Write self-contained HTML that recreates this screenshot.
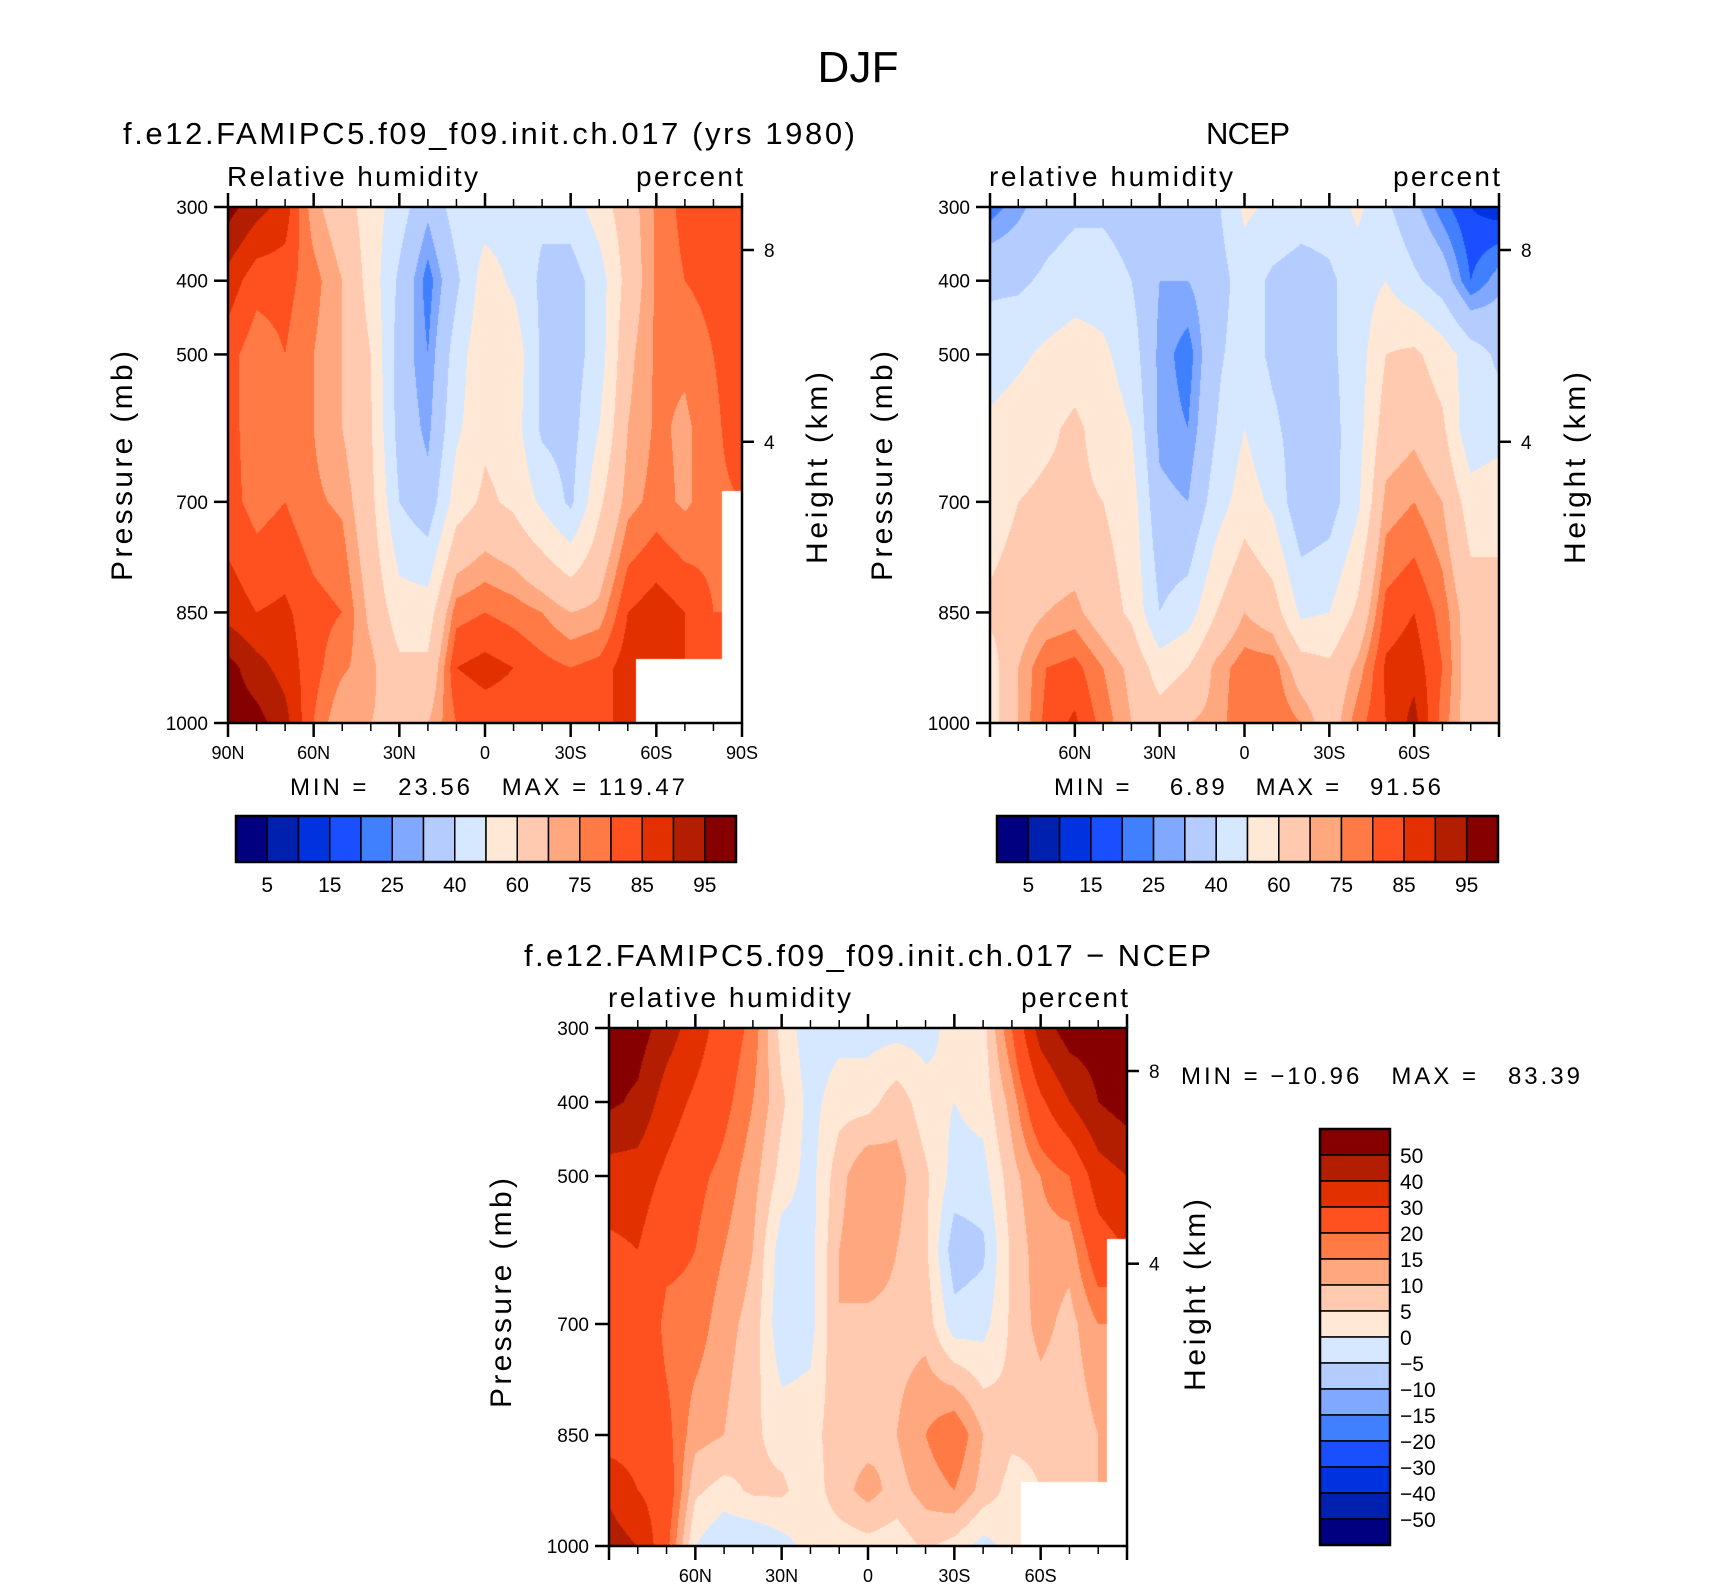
<!DOCTYPE html>
<html><head><meta charset="utf-8">
<style>
body{margin:0;background:#fff;width:1710px;height:1590px;position:relative;overflow:hidden;font-family:"Liberation Sans",sans-serif;color:#000}
canvas{position:absolute}
svg{position:absolute;left:0;top:0}
svg text{white-space:pre}
</style></head><body>
<canvas id="c1" width="514" height="516" style="left:228px;top:207px"></canvas>
<canvas id="c2" width="509" height="516" style="left:990px;top:207px"></canvas>
<canvas id="c3" width="518" height="518" style="left:609px;top:1028px"></canvas>
<svg id="ov" width="1710" height="1590"></svg>
<script>
const lats=[90,80,70,60,50,40,30,20,10,0,-10,-20,-30,-40,-50,-60,-70,-80,-90];
const levels=[300,400,500,600,700,850,925,1000];
const absBounds=[5,10,15,20,25,30,40,50,60,70,75,80,85,90,95];
const diffBounds=[-50,-40,-30,-20,-15,-10,-5,0,5,10,15,20,30,40,50];
const absTickLabels=["5","15","25","40","60","75","85","95"];
const diffTickLabels=["50","40","30","20","15","10","5","0","−5","−10","−15","−20","−30","−40","−50"];
const colors=["#000080","#0020b0","#0033e0","#1a4fff","#4080ff","#80a8ff","#b4ccff","#d6e8ff","#ffe8d6","#ffcab0","#ffa880","#ff7a45","#ff5020","#e33000","#b31e00","#870000"];
const modelRH=[
[97,88,82,82,82,88,97,98],[92,82,77,77,78,85,92,97],[88,82,80,77,80,86,88,92],[72,77,75,75,76,82,82,80],
[65,70,70,70,74,80,76,70],[55,56,60,61,63,68,72,70],[45,38,35,36,40,55,62,68],[32,22,25,28,33,55,62,70],
[45,38,45,48,55,78,85,80],[45,55,58,58,62,80,87,82],[45,48,57,55,58,78,85,82],[42,38,38,38,48,75,82,82],
[45,35,35,36,38,70,80,82],[55,45,45,50,58,72,82,85],[66,64,68,70,73,85,88,85],[76,76,76,76,77,88,null,null],
[82,80,76,74,74,85,null,null],[84,82,80,78,78,80,null,null],[85,85,85,85,null,null,null,null]];
const ncepRH=[
[22,38,45,52,55,62,55,55],[28,38,48,55,60,65,70,70],[35,42,52,58,62,70,80,82],[38,45,55,62,62,72,82,86],
[38,45,52,56,60,65,75,78],[35,40,45,50,55,58,68,70],[35,30,28,28,32,40,55,65],[35,30,22,25,30,45,60,70],
[38,35,38,40,45,60,72,72],[52,45,45,50,55,70,78,80],[48,38,38,42,48,65,78,80],[45,35,35,35,32,48,65,75],
[45,38,38,36,35,50,62,65],[52,45,45,46,48,62,72,78],[42,50,60,65,72,82,86,85],[32,42,62,68,75,85,88,92],
[22,35,55,62,70,78,80,78],[15,20,45,42,55,65,65,65],[12,28,38,45,58,62,62,62]];
const diffRH=[
[55,52,35,28,25,25,38,45],[55,48,35,30,28,25,30,40],[45,35,28,22,18,22,25,22],[35,28,22,20,18,12,6,0],
[25,22,18,15,12,10,3,-5],[18,15,12,10,8,6,6,-5],[3,6,3,-3,-4,3,6,-2],[-3,-2,-2,-2,-2,3,2,2],
[-2,3,8,10,10,8,8,2],[-2,3,15,15,8,8,12,3],[-2,8,12,10,8,10,8,2],[-2,2,6,6,8,15,12,6],
[2,0,-2,-8,-3,20,15,3],[3,2,-2,-6,-2,10,8,-2],[20,12,8,6,6,6,3,2],[45,28,15,13,12,6,null,null],
[55,40,20,12,8,6,null,null],[55,50,35,25,15,10,null,null],[60,55,40,null,null,null,null,null]];

function findIdx(arr,v){let i=0;while(i<arr.length-2&&v>arr[i+1])i++;return i;}
function draw(id,data,bounds){
  const c=document.getElementById(id),ctx=c.getContext('2d'),W=c.width,H=c.height;
  const img=ctx.createImageData(W,H);
  const rgb=colors.map(h=>[parseInt(h.substr(1,2),16),parseInt(h.substr(3,2),16),parseInt(h.substr(5,2),16)]);
  for(let y=0;y<H;y++){
    const p=300+700*(y+0.5)/H;const j=findIdx(levels,p);
    const fy=Math.min(1,Math.max(0,(p-levels[j])/(levels[j+1]-levels[j])));
    for(let x=0;x<W;x++){
      const lat=90-180*(x+0.5)/W;
      let i=0;while(i<lats.length-2&&lat<lats[i+1])i++;
      const fx=Math.min(1,Math.max(0,(lats[i]-lat)/(lats[i]-lats[i+1])));
      const corners=[[data[i][j],(1-fx)*(1-fy)],[data[i+1][j],fx*(1-fy)],[data[i][j+1],(1-fx)*fy],[data[i+1][j+1],fx*fy]];
      const ni=fx<0.3?i:i+1,nj=fy<0.85?j:j+1;
      const k=(y*W+x)*4;
      if(data[ni][nj]===null){img.data[k]=255;img.data[k+1]=255;img.data[k+2]=255;img.data[k+3]=255;continue;}
      let s=0,ws=0;for(const [v,w] of corners){if(v!==null){s+=v*w;ws+=w;}}
      const v=ws>1e-6?s/ws+1e-7:data[ni][nj];let b=0;while(b<bounds.length&&v>=bounds[b])b++;
      const col=rgb[b];img.data[k]=col[0];img.data[k+1]=col[1];img.data[k+2]=col[2];img.data[k+3]=255;
    }
  }
  ctx.putImageData(img,0,0);
}
draw('c1',modelRH,absBounds);
draw('c2',ncepRH,absBounds);
draw('c3',diffRH,diffBounds);

const ov=document.getElementById('ov');const NS='http://www.w3.org/2000/svg';
function el(tag,attrs,parent){const e=document.createElementNS(NS,tag);for(const k in attrs)e.setAttribute(k,attrs[k]);(parent||ov).appendChild(e);return e;}
function txt(x,y,s,size,anchor,name,rot,len){const t=el('text',{x:x,y:y,'font-size':size,'text-anchor':anchor||'middle','font-family':'Liberation Sans, sans-serif'});


if(len){t.setAttribute('textLength',len);t.setAttribute('lengthAdjust','spacing');}
if(rot)t.setAttribute('transform','rotate(-90 '+x+' '+y+')');t.textContent=s;return t;}
function panel(L,T,W,H,xlabels90,name,topL,topR,lenL){
  const g=el('g',{});
  
  
  el('rect',{x:L,y:T,width:W,height:H,fill:'none',stroke:'#000','stroke-width':2.5},g);
  const yp=p=>T+(p-300)/700*H;
  [300,400,500,700,850,1000].forEach(p=>{el('line',{x1:L-14,x2:L,y1:yp(p),y2:yp(p),stroke:'#000','stroke-width':2.5},g);
    txt(L-20,yp(p)+7,String(p),19,'end',name+'-pressure-label');});
  for(let d=0;d<=180;d+=10){const x=L+W*d/180;const major=d%30===0;
    el('line',{x1:x,x2:x,y1:T+H,y2:T+H+(major?14:8),stroke:'#000','stroke-width':major?2.5:1.5},g);
    el('line',{x1:x,x2:x,y1:T,y2:T-(major?14:8),stroke:'#000','stroke-width':major?2.5:1.5},g);}
  const labs=['90N','60N','30N','0','30S','60S','90S'];
  labs.forEach((s,k)=>{if(!xlabels90&&(k==0||k==6))return;txt(L+W*k/6,T+H+36,s,18,'middle',name+'-lat-label');});
  [[8,T+43],[4,T+H*0.455]].forEach(([km,y])=>{el('line',{x1:L+W,x2:L+W+12,y1:y,y2:y,stroke:'#000','stroke-width':2.5},g);txt(L+W+22,y+7,String(km),19,'start',name+'-height-label');});
  txt(L-1,T-21,topL,28,'start',name+'-variable-label',false,lenL);
  txt(L+W+1,T-21,topR,28,'end',name+'-units-label',false,107);
}
txt(858,82,'DJF',44,'middle','main-title',false,81);
txt(123,144,'f.e12.FAMIPC5.f09_f09.init.ch.017 (yrs 1980)',31,'start','model-title',false,732);
txt(1248,144,'NCEP',31,'middle','ncep-title',false,84);
txt(524,966,'f.e12.FAMIPC5.f09_f09.init.ch.017 − NCEP',31,'start','diff-title',false,687);
panel(228,207,514,516,true,'model','Relative humidity','percent',251);
panel(990,207,509,516,false,'ncep','relative humidity','percent',244);
panel(609,1028,518,518,false,'diff','relative humidity','percent',243);
txt(132,466,'Pressure (mb)',30,'middle','model-y-axis-title',true,230);
txt(892,466,'Pressure (mb)',30,'middle','ncep-y-axis-title',true,230);
txt(511,1293,'Pressure (mb)',30,'middle','diff-y-axis-title',true,230);
txt(827,468,'Height (km)',30,'middle','model-height-axis-title',true,192);
txt(1585,468,'Height (km)',30,'middle','ncep-height-axis-title',true,192);
txt(1205,1295,'Height (km)',30,'middle','diff-height-axis-title',true,192);
txt(290,795,'MIN =   23.56   MAX = 119.47',24,'start','model-min-max',false,395);
txt(1054,795,'MIN =    6.89   MAX =   91.56',24,'start','ncep-min-max',false,387);
txt(1181,1084,'MIN = −10.96   MAX =   83.39',24,'start','diff-min-max',false,399);
function hbar(L,T,W,H,name){const bw=W/colors.length;
  colors.forEach((c,k)=>{const r=el('rect',{x:L+k*bw,y:T,width:bw,height:H,fill:c,stroke:'#000','stroke-width':1.5});
    
    });
  el('rect',{x:L,y:T,width:W,height:H,fill:'none',stroke:'#000','stroke-width':2.5});
  absTickLabels.forEach((s,k)=>txt(L+bw*(2*k+1),T+H+30,s,21,'middle',name+'-label'));}
hbar(236,816,500,46,'model-colorbar');
hbar(997,816,501,46,'ncep-colorbar');
(function(){const L=1320,T=1129,W=70,H=416,bh=H/16;
  for(let k=0;k<16;k++){const r=el('rect',{x:L,y:T+k*bh,width:W,height:bh,fill:colors[15-k],stroke:'#000','stroke-width':1.5});
    
    }
  el('rect',{x:L,y:T,width:W,height:H,fill:'none',stroke:'#000','stroke-width':2.5});
  diffTickLabels.forEach((s,k)=>txt(L+W+10,T+bh*(k+1)+8,s,21,'start','diff-colorbar-label'));})();
</script>
</body></html>
